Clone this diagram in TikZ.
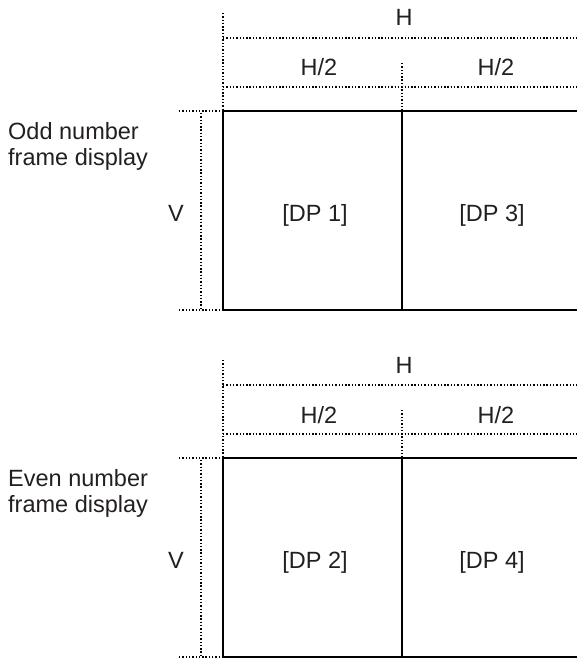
\documentclass[tikz,border=0pt]{standalone}
\usepackage{fontspec}
\setmainfont{Liberation Sans}
\definecolor{ink}{RGB}{35,31,32}
\begin{document}
\begin{tikzpicture}[x=1pt,y=-1pt,
  lbl/.style={inner sep=0pt,text=ink,font=\fontsize{23.5}{26}\selectfont},
  dimline/.style={line width=1.3pt,dash pattern=on 1.4pt off 1.9pt},
  frameline/.style={line width=2.8pt,line cap=rect}]
\clip (0,0) rectangle (577,658);
\foreach \p/\dy/\word/\a/\b in {t/0/Odd/1/3, b/347/Even/2/4}{
  \begin{scope}[shift={(0,\dy)}]
    % coordinates
    \coordinate (\p-tl) at (223,111);
    \coordinate (\p-tm) at (402,111);
    \coordinate (\p-tr) at (582,111);
    \coordinate (\p-bl) at (223,310);
    \coordinate (\p-bm) at (402,310);
    \coordinate (\p-br) at (582,310);
    \coordinate (\p-ltop) at (223,13);
    \coordinate (\p-mtop) at (402,63);
    \coordinate (\p-hl) at (223,38);
    \coordinate (\p-hr) at (582,38);
    \coordinate (\p-hhl) at (223,87);
    \coordinate (\p-hhr) at (582,87);
    \coordinate (\p-tickt) at (179,111);
    \coordinate (\p-tickb) at (179,310);
    \coordinate (\p-vt) at (201,113);
    \coordinate (\p-vb) at (201,310);
    % dimension lines
    \draw[dimline] (\p-ltop) -- (\p-tl);
    \draw[dimline] (\p-mtop) -- (\p-tm);
    \draw[dimline] (\p-hl) -- (\p-hr);
    \draw[dimline] (\p-hhl) -- (\p-hhr);
    \draw[dimline] (\p-tickt) -- (\p-tl);
    \draw[dimline] (\p-tickb) -- (\p-bl);
    \draw[dimline] (\p-vt) -- (\p-vb);
    % frame
    \draw[frameline] (\p-tr) -- (\p-tl) -- (\p-bl) -- (\p-br);
    \draw[frameline] (\p-tm) -- (\p-bm);
    % labels
    \node[lbl,anchor=base] (\p-H) at (404,26) {H};
    \node[lbl,anchor=base] (\p-H2a) at (319,76) {H/2};
    \node[lbl,anchor=base] (\p-H2b) at (496,76) {H/2};
    \node[lbl,anchor=base] (\p-V) at (176,221) {V};
    \node[lbl,anchor=base] (\p-dpa) at (315,221) {[DP \a]};
    \node[lbl,anchor=base] (\p-dpb) at (492,221) {[DP \b]};
    \node[lbl,anchor=base west,align=left] (\p-title) at (8,165) {\word\ number\\frame display};
  \end{scope}
}
\end{tikzpicture}
\end{document}
